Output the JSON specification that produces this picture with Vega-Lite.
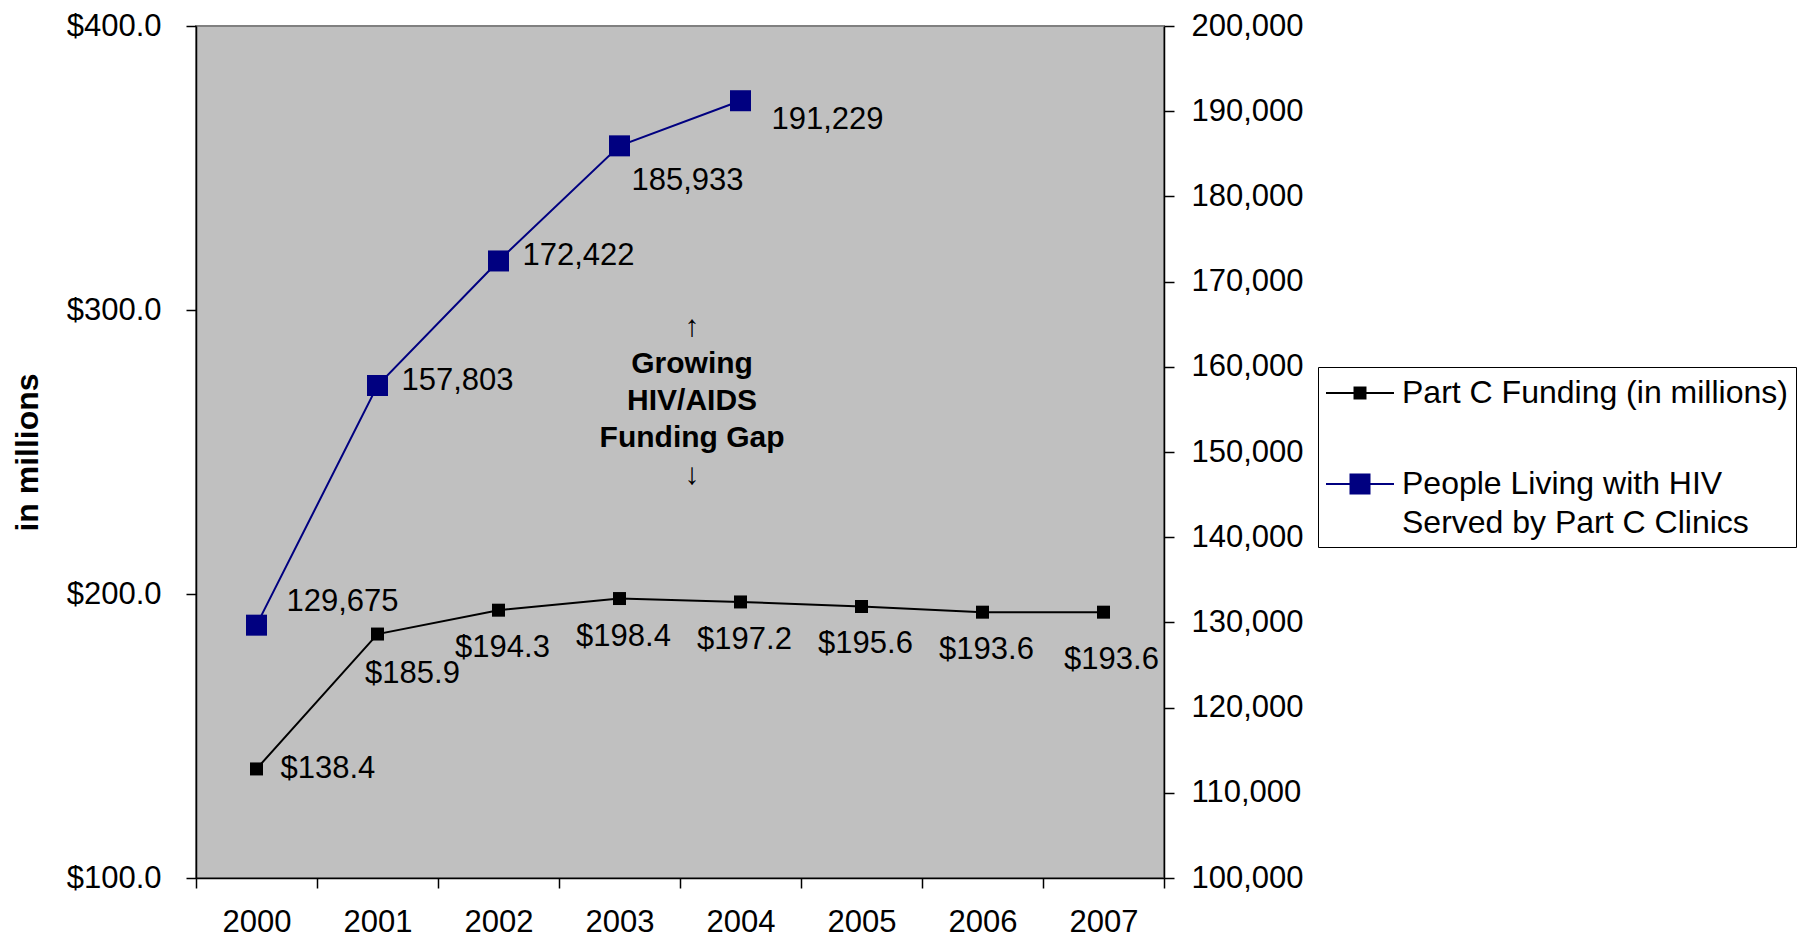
{
  "$schema": "https://vega.github.io/schema/vega-lite/v6.json",
  "width": 968,
  "height": 852,
  "padding": {"left": 11, "top": 10, "right": 0, "bottom": 0},
  "background": "white",
  "config": {
    "font": "Liberation Sans",
    "view": {"fill": "#C0C0C0", "stroke": "#808080", "strokeWidth": 2},
    "axis": {
      "labelFont": "Liberation Sans",
      "labelFontSize": 31,
      "labelColor": "black",
      "domainColor": "black",
      "tickColor": "black",
      "domainWidth": 1.5,
      "tickWidth": 1.5,
      "tickSize": 10,
      "grid": false,
      "titleFont": "Liberation Sans",
      "titleColor": "black"
    },
    "style": {"guide-label": {"lineHeight": 39}},
    "text": {"font": "Liberation Sans", "fontSize": 31, "color": "black"}
  },
  "datasets": {
    "funding": [
      {"year": "2000", "series": "Part C Funding (in millions)", "value": 138.4},
      {"year": "2001", "series": "Part C Funding (in millions)", "value": 185.9},
      {"year": "2002", "series": "Part C Funding (in millions)", "value": 194.3},
      {"year": "2003", "series": "Part C Funding (in millions)", "value": 198.4},
      {"year": "2004", "series": "Part C Funding (in millions)", "value": 197.2},
      {"year": "2005", "series": "Part C Funding (in millions)", "value": 195.6},
      {"year": "2006", "series": "Part C Funding (in millions)", "value": 193.6},
      {"year": "2007", "series": "Part C Funding (in millions)", "value": 193.6}
    ],
    "people": [
      {"year": "2000", "series": "People Living with HIV Served by Part C Clinics", "value": 129675},
      {"year": "2001", "series": "People Living with HIV Served by Part C Clinics", "value": 157803},
      {"year": "2002", "series": "People Living with HIV Served by Part C Clinics", "value": 172422},
      {"year": "2003", "series": "People Living with HIV Served by Part C Clinics", "value": 185933},
      {"year": "2004", "series": "People Living with HIV Served by Part C Clinics", "value": 191229}
    ],
    "note": [
      {"year": "2004", "value": 294, "label": "↑|Growing|HIV/AIDS|Funding Gap|↓"}
    ]
  },
  "encoding": {
    "x": {
      "field": "year",
      "type": "nominal",
      "scale": {"type": "band", "paddingInner": 0, "paddingOuter": 0},
      "axis": {"title": null, "labelAngle": 0, "tickBand": "extent", "labelPadding": 19}
    }
  },
  "layer": [
    {
      "encoding": {
        "y": {
          "field": "value",
          "type": "quantitative",
          "scale": {"domain": [100, 400], "nice": false, "zero": false},
          "axis": {
            "orient": "left",
            "values": [100, 200, 300, 400],
            "format": "$.1f",
            "title": "in millions",
            "titleFontSize": 32,
            "titleFontWeight": "bold",
            "titlePadding": 22,
            "labelPadding": 25
          }
        }
      },
      "layer": [
        {
          "data": {"name": "funding"},
          "mark": {"type": "line", "strokeWidth": 2},
          "encoding": {
            "color": {
              "field": "series",
              "type": "nominal",
              "scale": {"range": ["black", "#000080"]},
              "legend": {
                "orient": "none",
                "legendX": 1122,
                "legendY": 341,
                "title": null,
                "symbolType": "M-1.059,0H2.941",
                "symbolSize": 1156,
                "symbolStrokeWidth": 2,
                "labelFont": "Liberation Sans",
                "labelFontSize": 32,
                "labelColor": "black",
                "labelLimit": 700,
                "labelOffset": 40,
                "labelExpr": "datum.label == 'People Living with HIV Served by Part C Clinics' ? ['People Living with HIV', 'Served by Part C Clinics'] : datum.label",
                "padding": 8,
                "rowPadding": 57,
                "strokeColor": "black",
                "fillColor": "white"
              }
            }
          }
        },
        {
          "data": {"name": "funding"},
          "mark": {"type": "point", "filled": true, "opacity": 1, "size": 1156},
          "encoding": {
            "fill": {
              "field": "series",
              "type": "nominal",
              "scale": {
                "domain": ["Part C Funding (in millions)", "People Living with HIV Served by Part C Clinics"],
                "range": ["black", "#000080"]
              },
              "legend": {
                "orient": "none",
                "legendX": 1122,
                "legendY": 341,
                "title": null,
                "symbolSize": 1156,
                "symbolStrokeWidth": 2,
                "symbolOffset": 16,
                "labelFont": "Liberation Sans",
                "labelFontSize": 32,
                "labelOpacity": 0,
                "labelLimit": 700,
                "labelOffset": 40,
                "labelExpr": "datum.label == 'People Living with HIV Served by Part C Clinics' ? [' ', ' '] : ' '",
                "padding": 8,
                "rowPadding": 57
              }
            },
            "shape": {
              "field": "series",
              "type": "nominal",
              "scale": {
                "domain": ["Part C Funding (in millions)", "People Living with HIV Served by Part C Clinics"],
                "range": ["M-0.382,-0.382H0.382V0.382H-0.382Z", "M-0.618,-0.618H0.618V0.618H-0.618Z"]
              },
              "legend": {
                "orient": "none",
                "legendX": 1122,
                "legendY": 341,
                "title": null,
                "symbolSize": 1156,
                "symbolStrokeWidth": 2,
                "symbolOffset": 16,
                "labelFont": "Liberation Sans",
                "labelFontSize": 32,
                "labelOpacity": 0,
                "labelLimit": 700,
                "labelOffset": 40,
                "labelExpr": "datum.label == 'People Living with HIV Served by Part C Clinics' ? [' ', ' '] : ' '",
                "padding": 8,
                "rowPadding": 57
              }
            }
          }
        },
        {
          "data": {"name": "funding"},
          "transform": [{"filter": "datum.year == '2000'"}],
          "mark": {"type": "text", "align": "left", "baseline": "middle", "dx": 24, "dy": 0},
          "encoding": {"text": {"field": "value", "type": "quantitative", "format": "$.1f"}}
        },
        {
          "data": {"name": "funding"},
          "transform": [{"filter": "datum.year == '2001'"}],
          "mark": {"type": "text", "align": "center", "baseline": "middle", "dx": 35, "dy": 40},
          "encoding": {"text": {"field": "value", "type": "quantitative", "format": "$.1f"}}
        },
        {
          "data": {"name": "funding"},
          "transform": [{"filter": {"field": "year", "oneOf": ["2002", "2003", "2004", "2005", "2006"]}}],
          "mark": {"type": "text", "align": "center", "baseline": "middle", "dx": 4, "dy": 38},
          "encoding": {"text": {"field": "value", "type": "quantitative", "format": "$.1f"}}
        },
        {
          "data": {"name": "funding"},
          "transform": [{"filter": "datum.year == '2007'"}],
          "mark": {"type": "text", "align": "center", "baseline": "middle", "dx": 8, "dy": 48},
          "encoding": {"text": {"field": "value", "type": "quantitative", "format": "$.1f"}}
        },
        {
          "data": {"name": "note"},
          "mark": {"type": "text", "align": "center", "baseline": "middle", "fontWeight": "bold", "fontSize": 30, "lineBreak": "|", "lineHeight": 37},
          "encoding": {
            "x": {"field": "year", "type": "nominal", "bandPosition": 0.1},
            "text": {"field": "label", "type": "nominal"}
          }
        }
      ]
    },
    {
      "encoding": {
        "y": {
          "field": "value",
          "type": "quantitative",
          "scale": {"domain": [100000, 200000], "nice": false, "zero": false},
          "axis": {
            "orient": "right",
            "values": [100000, 110000, 120000, 130000, 140000, 150000, 160000, 170000, 180000, 190000, 200000],
            "format": ",d",
            "title": null,
            "labelPadding": 17
          }
        }
      },
      "layer": [
        {
          "data": {"name": "people"},
          "mark": {"type": "line", "strokeWidth": 2},
          "encoding": {"color": {"field": "series", "type": "nominal"}}
        },
        {
          "data": {"name": "people"},
          "mark": {"type": "point", "filled": true, "opacity": 1, "size": 1156},
          "encoding": {
            "fill": {"field": "series", "type": "nominal"},
            "shape": {"field": "series", "type": "nominal"}
          }
        },
        {
          "data": {"name": "people"},
          "transform": [{"filter": "datum.year == '2000'"}],
          "mark": {"type": "text", "align": "left", "baseline": "middle", "dx": 30, "dy": -23},
          "encoding": {"text": {"field": "value", "type": "quantitative", "format": ",d"}}
        },
        {
          "data": {"name": "people"},
          "transform": [{"filter": {"field": "year", "oneOf": ["2001", "2002"]}}],
          "mark": {"type": "text", "align": "left", "baseline": "middle", "dx": 24, "dy": -5},
          "encoding": {"text": {"field": "value", "type": "quantitative", "format": ",d"}}
        },
        {
          "data": {"name": "people"},
          "transform": [{"filter": "datum.year == '2003'"}],
          "mark": {"type": "text", "align": "left", "baseline": "middle", "dx": 12, "dy": 35},
          "encoding": {"text": {"field": "value", "type": "quantitative", "format": ",d"}}
        },
        {
          "data": {"name": "people"},
          "transform": [{"filter": "datum.year == '2004'"}],
          "mark": {"type": "text", "align": "left", "baseline": "middle", "dx": 31, "dy": 19},
          "encoding": {"text": {"field": "value", "type": "quantitative", "format": ",d"}}
        }
      ]
    }
  ],
  "resolve": {"scale": {"y": "independent"}}
}
